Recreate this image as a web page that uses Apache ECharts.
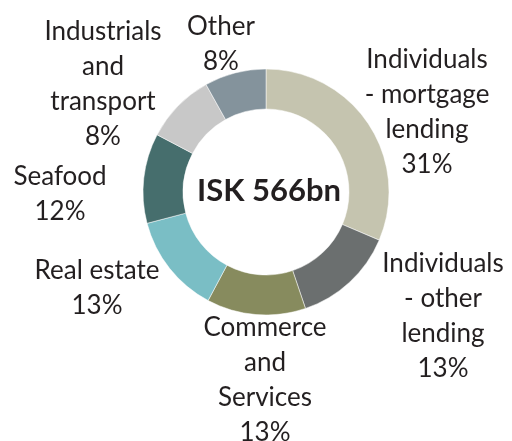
<!DOCTYPE html>
<html>
<head>
<meta charset="utf-8">
<script src="https://cdn.jsdelivr.net/npm/echarts@6/dist/echarts.min.js"></script>
<style>
  html, body { margin: 0; padding: 0; background: #fff; }
  #main { width: 512px; height: 441px; }
</style>
</head>
<body>
<div id="main"></div>
<script>
// loan book by sector, share of total (%)
var sectors = ['Individuals\n- mortgage\nlending', 'Individuals\n- other\nlending', 'Commerce\nand\nServices',
  'Real estate', 'Seafood', 'Industrials\nand\ntransport', 'Other'];
var shares = [31.4, 13.4, 13.0, 13.1, 11.8, 9.2, 8.1];
var shareLabels = ['31%', '13%', '13%', '13%', '12%', '8%', '8%'];
var colors = ['#c5c4af', '#6b6f6f', '#878b5e', '#7abec5', '#466e6d', '#c8c8c8', '#84939c'];
var totalText = 'ISK 566bn';

var myChart = echarts.init(document.getElementById('main'));

// label block centres
var labelPos = [[427, 112], [443, 316], [265, 380], [97, 288], [60, 194], [103, 84], [221, 44]];

var option = {
  animation: false,
  title: {
    text: totalText,
    left: 264,
    top: 170,
    textAlign: 'center',
    textStyle: { fontFamily: 'Lato', fontWeight: 'bold', fontSize: 31, color: '#231f20' }
  },
  series: [{
    type: 'pie',
    center: [266, 192],
    radius: [83, 123],
    startAngle: 90,
    clockwise: true,
    avoidLabelOverlap: false,
    itemStyle: { borderColor: '#fff', borderWidth: 0.5 },
    label: {
      show: true,
      position: 'outside',
      fontFamily: 'Lato',
      fontSize: 26,
      lineHeight: 35,
      color: '#231f20',
      align: 'center',
      formatter: function (p) { return p.name + '\n' + shareLabels[p.dataIndex]; }
    },
    labelLine: { show: false },
    labelLayout: function (p) {
      var pos = labelPos[p.dataIndex];
      return { x: pos[0], y: pos[1], align: 'center', verticalAlign: 'middle' };
    },
    data: sectors.map(function (s, i) {
      return { name: s, value: shares[i], itemStyle: { color: colors[i] } };
    })
  }]
};
myChart.setOption(option);
</script>
</body>
</html>
